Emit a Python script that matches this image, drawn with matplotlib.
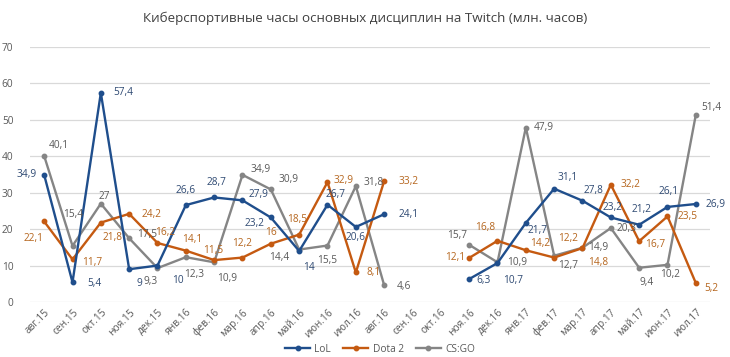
import numpy as np
import matplotlib.pyplot as plt

plt.rcParams['font.family'] = ['Open Sans', 'DejaVu Sans']

months = ['авг.15', 'сен.15', 'окт.15', 'ноя.15', 'дек.15', 'янв.16', 'фев.16', 'мар.16',
          'апр.16', 'май.16', 'июн.16', 'июл.16', 'авг.16', 'сен.16', 'окт.16', 'ноя.16',
          'дек.16', 'янв.17', 'фев.17', 'мар.17', 'апр.17', 'май.17', 'июн.17', 'июл.17']
nan = np.nan
lol = [34.9, 5.4, 57.4, 9, 10, 26.6, 28.7, 27.9, 23.2, 14, 26.7, 20.6, 24.1, nan, nan,
       6.3, 10.7, 21.7, 31.1, 27.8, 23.2, 21.2, 26.1, 26.9]
dota = [22.1, 11.7, 21.8, 24.2, 16.2, 14.1, 11.5, 12.2, 16, 18.5, 32.9, 8.1, 33.2, nan, nan,
        12.1, 16.8, 14.2, 12.2, 14.8, 32.2, 16.7, 23.5, 5.2]
csgo = [40.1, 15.4, 27, 17.5, 9.3, 12.3, 10.9, 34.9, 30.9, 14.4, 15.5, 31.8, 4.6, nan, nan,
        15.7, 10.9, 47.9, 12.7, 14.9, 20.3, 9.4, 10.2, 51.4]

# label offsets in pixels (dx, dy), text centred on that spot
lol_off = [(-18, 0), (22, -1), (22, 0), (10, -14), (20, -15), (0, 15), (2, 15), (16, 6),
           (-16, -6), (10, -16), (8, 10), (0, -11), (24, 0), None, None,
           (14, -1), (16, -17), (12, -8), (14, 11), (11, 10), (2, 10), (2, 15), (1, 15), (20, 0)]
dota_off = [(-11, -17), (20, -3), (12, -15), (22, -1), (8, 10), (6, 11), (-1, 10), (0, 14),
            (0, 11), (-2, 15), (16, 2), (18, 0), (24, 0), None, None,
            (-14, 0), (-12, 13), (14, 7), (14, 19), (16, -14), (20, 0), (16, -3), (20, 0), (16, -5)]
csgo_off = [(15, 10), (1, 31), (3, 7), (18, 4), (-7, -13), (8, -17), (13, -16), (18, 5),
            (18, 10), (-20, -8), (0, -15), (18, 4), (20, -1), None, None,
            (-12, 9), (20, 0), (18, 0), (14, -10), (16, 0), (16, 0), (7, -15), (3, -10), (16, 7)]

c_lol = '#1f4e8c'
c_dota = '#c55a11'
c_csgo = '#858585'
c_lol_t = '#2f4a73'
c_dota_t = '#b5651d'
c_csgo_t = '#595959'

fig = plt.figure(figsize=(7.3, 3.57), dpi=100)
ax = fig.add_axes([30 / 730, 55 / 357, 680 / 730, 255 / 357])
x = np.arange(len(months))

for vals, col, tcol, offs, name in [(csgo, c_csgo, c_csgo_t, csgo_off, 'CS:GO'),
                                    (dota, c_dota, c_dota_t, dota_off, 'Dota 2'),
                                    (lol, c_lol, c_lol_t, lol_off, 'LoL')]:
    ax.plot(x, vals, color=col, lw=1.7, marker='o', ms=3.2, label=name, zorder=3)
    for i, v in enumerate(vals):
        if np.isnan(v):
            continue
        txt = ('%g' % v).replace('.', ',')
        ax.annotate(txt, (i, v), xytext=offs[i], textcoords='offset pixels',
                    ha='center', va='center', fontsize=7.3, color=tcol, zorder=4)

ax.set_xlim(-0.5, len(months) - 0.5)
ax.set_ylim(0, 70)
ax.set_yticks(range(0, 71, 10))
ax.yaxis.grid(True, color='#d9d9d9', lw=0.9)
ax.set_axisbelow(True)
for s in ax.spines.values():
    s.set_visible(False)
ax.tick_params(length=0, colors='#595959', labelsize=7.3)
ax.tick_params(axis='y', pad=12)
ax.set_xticks(x)
ax.set_xticklabels(months, rotation=45, ha='right', rotation_mode='anchor')

fig.text(0.5, 1 - 18 / 357, 'Киберспортивные часы основных дисциплин на Twitch (млн. часов)',
         ha='center', va='center', fontsize=9.6, color='#404040')

h, l = ax.get_legend_handles_labels()
order = [2, 1, 0]
fig.legend([h[k] for k in order], [l[k] for k in order], loc='center',
           bbox_to_anchor=(380 / 730, 1 - 349 / 357), ncol=3, frameon=False,
           fontsize=7.3, labelcolor='#595959', handlelength=2.5, columnspacing=1.2,
           handletextpad=0.4)

fig.savefig('out.png', dpi=100)
